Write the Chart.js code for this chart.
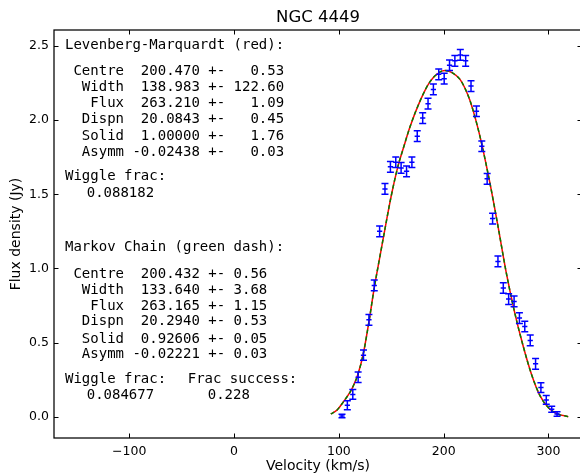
<!DOCTYPE html>
<html>
<head>
<meta charset="utf-8">
<title>NGC 4449</title>
<script src="https://cdn.jsdelivr.net/npm/chart.js@4.4.1/dist/chart.umd.min.js"></script>
<style>
  html, body { margin: 0; padding: 0; background: #fff; overflow: hidden; }
  canvas { display: block; }
</style>
</head>
<body>
<canvas id="c" width="600" height="473"></canvas>
<script>
// Observed HI channels
const velocity = [103.0, 108.1, 113.3, 118.4, 123.5, 128.7, 133.8, 138.9, 144.0, 149.2,
                  154.3, 159.4, 164.6, 169.7, 174.8, 180.0, 185.1, 190.2, 195.3, 200.5,
                  205.6, 210.7, 215.9, 221.0, 226.1, 231.3, 236.4, 241.5, 246.7, 251.8,
                  256.9, 262.0, 267.2, 272.3, 277.4, 282.6, 287.7, 292.8, 297.9, 303.1, 308.2];
const flux     = [0.005, 0.077, 0.150, 0.266, 0.415, 0.653, 0.885, 1.250, 1.536, 1.685,
                  1.716, 1.678, 1.655, 1.716, 1.892, 2.014, 2.111, 2.207, 2.309, 2.280,
                  2.370, 2.400, 2.440, 2.400, 2.230, 2.060, 1.824, 1.604, 1.336, 1.047,
                  0.868, 0.793, 0.777, 0.665, 0.608, 0.514, 0.356, 0.196, 0.113, 0.050, 0.018];
const fluxErr  = [0.012, 0.030, 0.033, 0.035, 0.035, 0.036, 0.036, 0.036, 0.036, 0.036,
                  0.036, 0.036, 0.036, 0.036, 0.036, 0.036, 0.036, 0.036, 0.036, 0.036,
                  0.036, 0.036, 0.036, 0.036, 0.036, 0.036, 0.036, 0.036, 0.036, 0.036,
                  0.036, 0.036, 0.036, 0.036, 0.036, 0.036, 0.036, 0.033, 0.030, 0.020, 0.015];
const channelHalfWidth = 2.5;

// Fitted busy-function profiles, sampled along velocity
const fitVelocity = [92.3, 98.3, 104.3, 110.7, 113.3, 118.4, 123.5, 128.7, 133.8, 138.9,
                     144.1, 150.0, 156.8, 161.5, 167.9, 177.5, 187.0, 196.6, 201.3, 208.0,
                     215.6, 220.0, 225.2, 232.2, 236.3, 244.3, 252.2, 259.5, 267.5, 276.1,
                     284.1, 292.0, 300.0, 307.9, 318.9];
const fitFluxLM   = [0.018, 0.045, 0.100, 0.165, 0.200, 0.290, 0.430, 0.640, 0.870, 1.070,
                     1.270, 1.490, 1.700, 1.810, 1.955, 2.130, 2.260, 2.325, 2.335, 2.320,
                     2.275, 2.220, 2.130, 1.960, 1.840, 1.570, 1.270, 0.980, 0.710, 0.470,
                     0.280, 0.140, 0.060, 0.020, 0.000];
const fitFluxMC   = fitFluxLM.slice();

const xTicks = [-100, 0, 100, 200, 300];
const yTicks = [0.0, 0.5, 1.0, 1.5, 2.0, 2.5];

const lmLines = [
  ' Centre  200.470 +-   0.53',
  '  Width  138.983 +- 122.60',
  '   Flux  263.210 +-   1.09',
  '  Dispn  20.0843 +-   0.45',
  '  Solid  1.00000 +-   1.76',
  '  Asymm -0.02438 +-   0.03'
];
const mcLines = [
  ' Centre  200.432 +- 0.56',
  '  Width  133.640 +- 3.68',
  '   Flux  263.165 +- 1.15',
  '  Dispn  20.2940 +- 0.53',
  '  Solid  0.92606 +- 0.05',
  '  Asymm -0.02221 +- 0.03'
];

const FRAME = { left: 54, top: 30, right: 582, bottom: 438 };
const W = 600, H = 473;

const toPts = (xs, ys) => xs.map((x, i) => ({ x: x, y: ys[i] }));

// Frame, inward ticks on all four sides, title
const framePlugin = {
  id: 'frame',
  afterDraw(chart) {
    const { ctx, chartArea: a, scales: { x, y } } = chart;
    ctx.save();
    ctx.strokeStyle = '#000';
    ctx.lineWidth = 1.25;
    ctx.strokeRect(a.left, a.top, a.right - a.left, a.bottom - a.top);
    const tl = 4.5;
    ctx.beginPath();
    xTicks.forEach(v => {
      const p = Math.round(x.getPixelForValue(v)) + 0.5;
      ctx.moveTo(p, a.bottom); ctx.lineTo(p, a.bottom - tl);
      ctx.moveTo(p, a.top); ctx.lineTo(p, a.top + tl);
    });
    yTicks.forEach(v => {
      const p = Math.round(y.getPixelForValue(v)) + 0.5;
      ctx.moveTo(a.left, p); ctx.lineTo(a.left + tl, p);
      ctx.moveTo(a.right, p); ctx.lineTo(a.right - tl, p);
    });
    ctx.lineWidth = 1;
    ctx.stroke();

    ctx.fillStyle = '#000';
    ctx.font = '16.5px "DejaVu Sans"';
    ctx.textAlign = 'center';
    ctx.textBaseline = 'middle';
    ctx.fillText('NGC 4449', (a.left + a.right) / 2, 18);
    ctx.restore();
  }
};

// Vertical flux errors and channel-width bars
const errorBarPlugin = {
  id: 'errorBars',
  afterDatasetsDraw(chart) {
    const { ctx, chartArea: a, scales: { x, y } } = chart;
    ctx.save();
    ctx.beginPath();
    ctx.rect(a.left, a.top, a.right - a.left, a.bottom - a.top);
    ctx.clip();
    ctx.strokeStyle = '#0000ff';
    ctx.lineWidth = 1.5;
    ctx.beginPath();
    velocity.forEach((v, i) => {
      const px = x.getPixelForValue(v);
      const py = y.getPixelForValue(flux[i]);
      const y1 = y.getPixelForValue(flux[i] - fluxErr[i]);
      const y2 = y.getPixelForValue(flux[i] + fluxErr[i]);
      const xl = x.getPixelForValue(v - channelHalfWidth);
      const xr = x.getPixelForValue(v + channelHalfWidth);
      const cap = 3.5;
      ctx.moveTo(px, y1); ctx.lineTo(px, y2);
      ctx.moveTo(px - cap, y1); ctx.lineTo(px + cap, y1);
      ctx.moveTo(px - cap, y2); ctx.lineTo(px + cap, y2);
      ctx.moveTo(xl, py); ctx.lineTo(xr, py);
    });
    ctx.stroke();
    ctx.restore();
  }
};

// Fit parameter annotations
const textPlugin = {
  id: 'fitText',
  afterDraw(chart) {
    const { ctx } = chart;
    ctx.save();
    ctx.fillStyle = '#000';
    ctx.font = '14px "DejaVu Sans Mono"';
    ctx.textAlign = 'left';
    ctx.textBaseline = 'middle';
    const x0 = 65;
    ctx.fillText('Levenberg-Marquardt (red):', x0, 45.7);
    const lmY = [71.7, 87.7, 103.5, 119.3, 136.7, 152.0];
    lmLines.forEach((s, i) => ctx.fillText(s, x0, lmY[i]));
    ctx.fillText('Wiggle frac:', x0, 176.7);
    ctx.fillText('0.088182', 86.7, 193.3);

    ctx.fillText('Markov Chain (green dash):', x0, 247.3);
    const mcY = [274.0, 290.0, 306.0, 321.7, 339.0, 354.3];
    mcLines.forEach((s, i) => ctx.fillText(s, x0, mcY[i]));
    ctx.fillText('Wiggle frac:', x0, 379.0);
    ctx.fillText('0.084677', 86.7, 395.7);
    ctx.fillText('Frac success:', 187.7, 379.0);
    ctx.fillText('0.228', 207.7, 395.7);
    ctx.restore();
  }
};

const xMin = -171.8, xMax = 332.0;
const yMin = -0.144, yMax = 2.608;

new Chart(document.getElementById('c'), {
  type: 'scatter',
  data: {
    datasets: [
      {
        label: 'Levenberg-Marquardt',
        type: 'line',
        order: 2,
        data: toPts(fitVelocity, fitFluxLM),
        borderColor: '#ff0000',
        borderWidth: 1.5,
        pointRadius: 0,
        fill: false,
        cubicInterpolationMode: 'monotone'
      },
      {
        label: 'Markov Chain',
        type: 'line',
        order: 1,
        data: toPts(fitVelocity, fitFluxMC),
        borderColor: '#008000',
        borderWidth: 1.5,
        borderDash: [4, 3],
        pointRadius: 0,
        fill: false,
        cubicInterpolationMode: 'monotone'
      },
      {
        label: 'Data',
        order: 0,
        data: toPts(velocity, flux),
        pointRadius: 0,
        borderColor: '#0000ff',
        backgroundColor: '#0000ff'
      }
    ]
  },
  options: {
    responsive: false,
    animation: false,
    devicePixelRatio: 1,
    layout: { padding: { left: 0, top: FRAME.top, right: W - FRAME.right, bottom: 0 } },
    plugins: {
      legend: { display: false },
      tooltip: { enabled: false },
      title: { display: false }
    },
    scales: {
      x: {
        type: 'linear',
        min: xMin, max: xMax,
        afterBuildTicks: s => { s.ticks = xTicks.map(v => ({ value: v })); },
        afterFit: s => { s.height = H - FRAME.bottom; },
        grid: { display: false, drawTicks: false },
        border: { display: false },
        ticks: {
          autoSkip: false, maxRotation: 0, padding: 6,
          color: '#000',
          font: { family: 'DejaVu Sans', size: 12.5 },
          callback: v => (v < 0 ? '\u2212' + Math.abs(v) : String(v))
        },
        title: {
          display: true, text: 'Velocity (km/s)', color: '#000',
          font: { family: 'DejaVu Sans', size: 14, lineHeight: 1 },
          padding: { top: 0, bottom: -0.5 }
        }
      },
      y: {
        type: 'linear',
        min: yMin, max: yMax,
        afterBuildTicks: s => { s.ticks = yTicks.map(v => ({ value: v })); },
        afterFit: s => { s.width = FRAME.left; },
        grid: { display: false, drawTicks: false },
        border: { display: false },
        ticks: {
          autoSkip: false, padding: 5,
          color: '#000',
          font: { family: 'DejaVu Sans', size: 12.5 },
          callback: v => Number(v).toFixed(1)
        },
        title: {
          display: true, text: 'Flux density (Jy)', color: '#000',
          font: { family: 'DejaVu Sans', size: 14, lineHeight: 1 },
          padding: { top: 9, bottom: 0 }
        }
      }
    }
  },
  plugins: [framePlugin, errorBarPlugin, textPlugin]
});
</script>
</body>
</html>
